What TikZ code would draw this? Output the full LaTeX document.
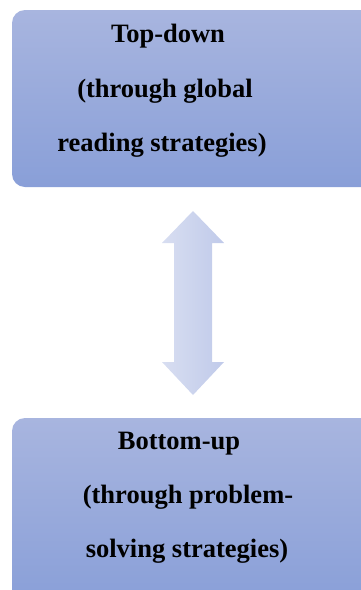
\documentclass[tikz,border=0pt]{standalone}
\usepackage{fontspec}
\setmainfont{Liberation Serif}
\definecolor{boxtop}{RGB}{168,181,223}
\definecolor{boxbot}{RGB}{137,159,216}
\definecolor{arrL}{RGB}{216,222,241}
\definecolor{arrR}{RGB}{192,202,234}
\begin{document}
\begin{tikzpicture}[x=1pt,y=-1pt,
  box/.style={draw=none, rounded corners=13pt, top color=boxtop, bottom color=boxbot},
  lbl/.style={anchor=base, inner sep=0pt, font=\fontsize{26.5}{30}\selectfont\bfseries}]
\useasboundingbox (0,0) rectangle (361,590);
\clip (0,0) rectangle (361,590);
% boxes
\path[box] (12,10) rectangle (385,187);
\path[box] (12,418) rectangle (385,604);
% double arrow
\coordinate (tipT) at (193,211);
\coordinate (tipB) at (193,395);
\path[left color=arrL, right color=arrR]
  (tipT) -- (224,243) -- (212,243) -- (212,362) -- (224,362) -- (tipB)
  -- (162,362) -- (174,362) -- (174,243) -- (162,243) -- cycle;
% texts
\node[lbl] (t1) at (168,42) {Top-down};
\node[lbl] (t2) at (165,97) {(through global};
\node[lbl] (t3) at (162,151) {reading strategies)};
\node[lbl] (b1) at (179,449) {Bottom-up};
\node[lbl] (b2) at (188,503) {(through problem-};
\node[lbl] (b3) at (187,557) {solving strategies)};
\end{tikzpicture}
\end{document}
